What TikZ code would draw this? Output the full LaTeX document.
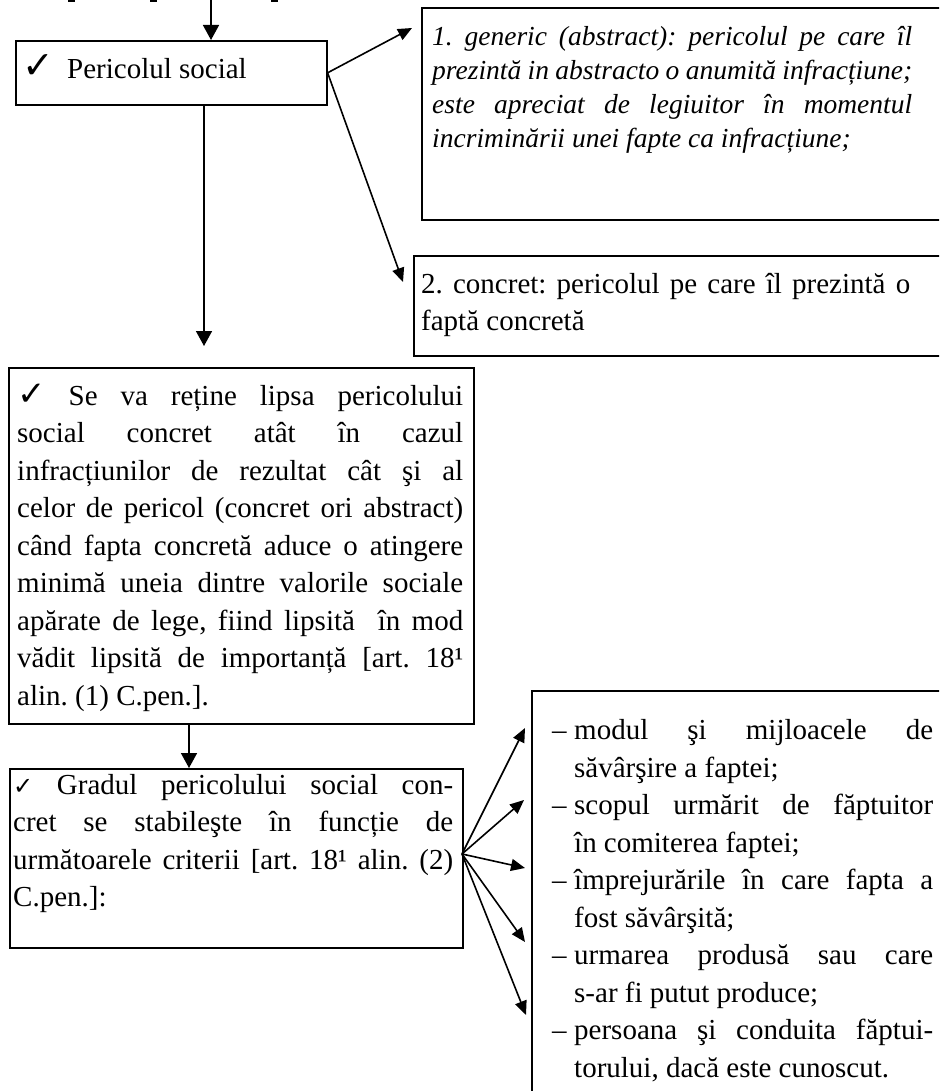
\documentclass[tikz,border=0pt]{standalone}
\usepackage{fontspec}
\setmainfont{Liberation Serif}
\newfontfamily\checkf{DejaVu Sans}
\usetikzlibrary{arrows.meta}
\hyphenpenalty=10000
\exhyphenpenalty=10000
\tolerance=9999
\frenchspacing
\newcommand{\dashitem}{\par\hangindent=22pt\hangafter=1\noindent\makebox[22pt][l]{–}}
\begin{document}
\begin{tikzpicture}[x=1pt,y=-1pt,
  box/.style={draw, line width=1.6pt, rectangle, inner sep=0pt, anchor=north west},
  txt/.style={inner sep=0pt, anchor=north west, align=justify},
  body/.style={font=\fontsize{29}{37.5}\selectfont},
  link/.style={line width=1.6pt},
  vtip/.style={-{Triangle[length=15pt,width=16pt]}},
  dtip/.style={-{Triangle[length=14pt,width=12pt]}}]
\useasboundingbox (0,0) rectangle (939,1091);
\clip (0,0) rectangle (939,1091);
\fill[white] (0,0) rectangle (939,1091);
% cut-off fragments at the top edge
\fill (68,0) rectangle (75,2);
\fill (150,0) rectangle (157,2);
\fill (271,0) rectangle (278,2);
% boxes
\node[box, minimum width=311pt, minimum height=64pt] (b1) at (15,40) {};
\node[box, minimum width=600pt, minimum height=212pt] (b2) at (421,7) {};
\node[box, minimum width=600pt, minimum height=100pt] (b4) at (413,255) {};
\node[box, minimum width=465pt, minimum height=356pt] (b3) at (8,367) {};
\node[box, minimum width=453pt, minimum height=179pt] (b5) at (9,768) {};
\node[box, minimum width=600pt, minimum height=500pt] (b6) at (531,690) {};
% texts
\node[anchor=base west, inner sep=0pt, body] (t1) at (22,79)
  {\makebox[45pt][l]{\checkf\fontsize{38}{38}\selectfont ✓}Pericolul social};
\node[txt, text width=480pt, font=\fontsize{27.5}{34}\selectfont\itshape] (t2) at (432,21.2)
  {\strut 1. generic (abstract): pericolul pe care îl\linebreak
   prezintă in abstracto o anumită infracțiune;\linebreak
   este apreciat de legiuitor în momentul\linebreak
   incriminării unei fapte ca infracțiune;};
\node[txt, text width=489pt, body] (t4) at (421,266.75)
  {\strut 2. concret: pericolul pe care îl prezintă o\linebreak faptă concretă};
\node[txt, text width=446pt, body] (t3) at (17,378.75)
  {\strut{\checkf\fontsize{34}{34}\selectfont ✓} Se va reține lipsa pericolului\linebreak
   social concret atât în cazul\linebreak
   infracțiunilor de rezultat cât şi al\linebreak
   celor de pericol (concret ori abstract)\linebreak
   când fapta concretă aduce o atingere\linebreak
   minimă uneia dintre valorile sociale\linebreak
   apărate de lege, fiind lipsită\ \ în mod\linebreak
   vădit lipsită de importanță [art. 18¹\linebreak
   alin. (1) C.pen.].};
\node[txt, text width=440pt, body] (t5) at (13,767.75)
  {\strut{\checkf\fontsize{24}{24}\selectfont ✓} Gradul pericolului social con-\linebreak
   cret se stabileşte în funcție de\linebreak
   următoarele criterii [art. 18¹ alin. (2)\linebreak
   C.pen.]:};
\node[txt, text width=381pt, body] (t6) at (552,701.8)
  {\dashitem\strut modul şi mijloacele de\linebreak săvârşire a faptei;
   \dashitem scopul urmărit de făptuitor\linebreak în comiterea faptei;
   \dashitem împrejurările în care fapta a\linebreak fost săvârşită;
   \dashitem urmarea produsă sau care\linebreak s-ar fi putut produce;
   \dashitem persoana şi conduita făptui-\linebreak torului, dacă este cunoscut.\par};
% connectors
\coordinate (t0) at (211,0);
\draw[link,vtip] (t0) -- (t0 |- b1.north);
\coordinate (a1) at (412,28);
\coordinate (a2) at (403,282);
\draw[link,dtip] (b1.east) -- (a1);
\draw[link,dtip] (b1.east) -- (a2);
\coordinate (a3) at (204,346);
\draw[link,vtip] (a3 |- b1.south) -- (a3);
\coordinate (c35) at (189,745);
\draw[link,vtip] (c35 |- b3.south) -- (c35 |- b5.north);
\coordinate (f0) at (462,854);
\coordinate (f1) at (525,728);
\coordinate (f2) at (524,800);
\coordinate (f3) at (525,868);
\coordinate (f4) at (525,942);
\coordinate (f5) at (526,1015);
\foreach \k in {1,...,5} \draw[link,dtip] (f0) -- (f\k);
\end{tikzpicture}
\end{document}
